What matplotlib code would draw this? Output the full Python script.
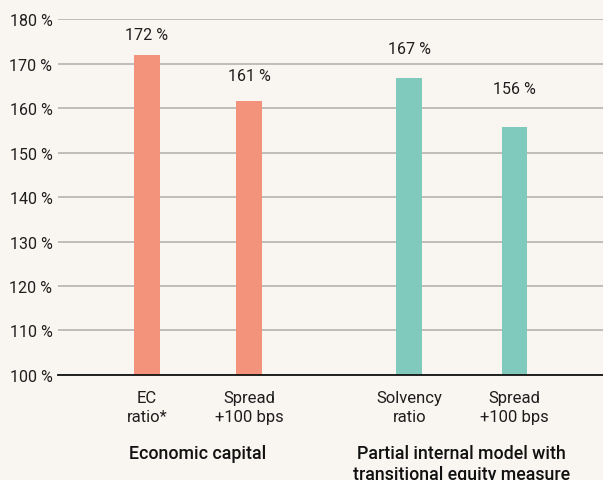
import matplotlib.pyplot as plt
import matplotlib

categories = ['EC\nratio*', 'Spread\n+100 bps', 'Solvency\nratio', 'Spread\n+100 bps']
values = [171.9, 161.5, 166.7, 155.7]
value_labels = ['172 %', '161 %', '167 %', '156 %']
groups = ['Economic capital', 'Partial internal model with\ntransitional equity measure']
yticks = [100, 110, 120, 130, 140, 150, 160, 170, 180]

bg = '#f9f5f1'
colors = ['#f4937b', '#f4937b', '#80c9bd', '#80c9bd']
xpos = [0, 1, 2.57, 3.6]
label_gap = [4.7, 5.9, 6.6, 8.6]
txt = '#1e1e1e'

plt.rcParams['font.family'] = ['Roboto', 'DejaVu Sans']

fig = plt.figure(figsize=(6.03, 4.81), dpi=100, facecolor=bg)
ax = fig.add_axes([0.0962, 0.2183, 0.9038, 0.7401], facecolor=bg)

ax.bar(xpos, [v - 100 for v in values], bottom=100, width=0.25, color=colors, zorder=3)
for x, v, lab, g in zip(xpos, values, value_labels, label_gap):
    ax.text(x, v + g, lab, ha='center', va='center', fontsize=11.5, color=txt)

ax.set_ylim(100, 180)
ax.set_xlim(-0.873, 4.47)
ax.set_yticks(yticks)
ax.set_yticklabels([f'{t} %' for t in yticks], fontsize=11.5, color=txt)
ax.yaxis.grid(True, color='#b5b3b0', linewidth=1.2, zorder=0)
ax.tick_params(axis='y', length=0, pad=4)
ax.set_xticks(xpos)
ax.set_xticklabels(categories, fontsize=12, color=txt, linespacing=1.35)
ax.tick_params(axis='x', length=0, pad=11)
for s in ['top', 'right', 'left']:
    ax.spines[s].set_visible(False)
ax.spines['bottom'].set_color('#111111')
ax.spines['bottom'].set_linewidth(1.3)
ax.spines['bottom'].set_zorder(4)

# group labels under the category labels
ax.text((xpos[0] + xpos[1]) / 2, 84.5, groups[0], ha='center', va='top', fontsize=12.8,
        fontweight='medium', color='#111111')
ax.text((xpos[2] + xpos[3]) / 2, 84.5, groups[1], ha='center', va='top', fontsize=12.8,
        fontweight='medium', color='#111111', linespacing=1.2)

fig.savefig('out.png', dpi=100, facecolor=bg)
